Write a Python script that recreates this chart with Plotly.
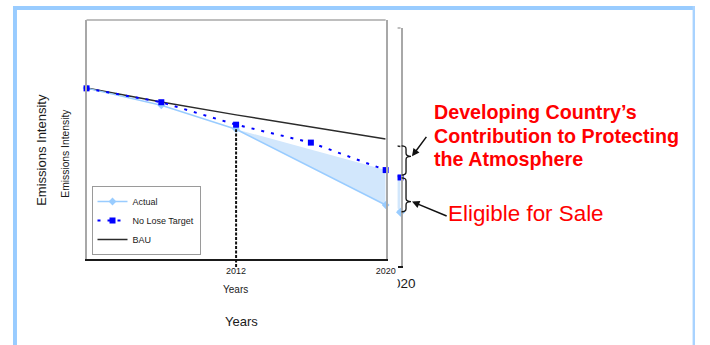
import plotly.graph_objects as go

# ---- data ----
years = [2004, 2008, 2012, 2016, 2020]
actual = [71.5, 64.3, 54.3, None, 22.6]
no_lose_target = [71.4, 65.6, 56.2, 48.7, 37.2]
bau = [71.5, 65.7, 60.3, 55.3, 50.2]
tick_years = [2012, 2020]
tick_labels = ["2012", "2020"]
big_tick_years = [2020]
big_tick_labels = ["2020"]
series_names = ["Actual", "No Lose Target", "BAU"]
y_title = "Emissions Intensity"
x_title = "Years"
callout_top_lines = ["Developing Country\u2019s", "Contribution to Protecting", "the Atmosphere"]
callout_bottom = "Eligible for Sale"

# ---- layout helpers ----
W, H = 710, 345
# the photographed page comes out slightly narrower than the canvas; place
# horizontal positions so that they land where the reference has them
SX, OX = 0.968, 9.0
def px(x):
    t = (x - OX) / SX
    return min(max(t, 0), W) / W
def py(y):
    return 1 - y / H

FONT = "Liberation Sans, Arial, sans-serif"
ACT_C = "#99ccff"
NLT_C = "#0000ff"
BAU_C = "#2b2b2b"
FILL_C = "#d2e7fc"
GRAY = "#a8a8a8"
TXT = "#1a1a1a"
RED = "#ff0000"
Y_RANGE = [0, 100]

i12 = years.index(2012)
last = len(years) - 1
tri_x = [years[i12], years[last], years[last]]
tri_y = [actual[i12], no_lose_target[last], actual[last]]

fig = go.Figure()

# ---- small (front) chart ----
fig.add_trace(go.Scatter(x=tri_x, y=tri_y, fill="toself", fillcolor=FILL_C, mode="lines",
                         line=dict(width=0), showlegend=False, hoverinfo="skip",
                         xaxis="x", yaxis="y"))
fig.add_trace(go.Scatter(x=years, y=bau, name=series_names[2], mode="lines",
                         line=dict(color=BAU_C, width=1.5), legendrank=3, xaxis="x", yaxis="y"))
fig.add_trace(go.Scatter(x=years, y=actual, name=series_names[0], mode="lines+markers",
                         connectgaps=True, line=dict(color=ACT_C, width=1.5),
                         marker=dict(symbol="diamond", size=6, color=ACT_C),
                         cliponaxis=False, legendrank=1, xaxis="x", yaxis="y"))
fig.add_trace(go.Scatter(x=years, y=no_lose_target, name=series_names[1], mode="lines+markers",
                         line=dict(color=NLT_C, width=2, dash="3px,7px"),
                         marker=dict(symbol="square", size=6, color=NLT_C),
                         cliponaxis=False, legendrank=2, xaxis="x", yaxis="y"))

# ---- big (background) chart, only its right edge is visible ----
fig.add_trace(go.Scatter(x=tri_x, y=tri_y, fill="toself", fillcolor=FILL_C, mode="lines",
                         line=dict(width=0), showlegend=False, hoverinfo="skip",
                         xaxis="x2", yaxis="y2"))
fig.add_trace(go.Scatter(x=years, y=bau, mode="lines", line=dict(color=BAU_C, width=1.5),
                         showlegend=False, xaxis="x2", yaxis="y2"))
fig.add_trace(go.Scatter(x=years, y=actual, mode="lines", connectgaps=True,
                         line=dict(color=ACT_C, width=1.5), showlegend=False,
                         xaxis="x2", yaxis="y2"))
fig.add_trace(go.Scatter(x=years, y=no_lose_target, mode="lines",
                         line=dict(color=NLT_C, width=2, dash="3px,7px"), showlegend=False,
                         xaxis="x2", yaxis="y2"))
fig.add_trace(go.Scatter(x=[years[last]], y=[actual[last]], mode="markers",
                         marker=dict(symbol="diamond", size=7, color=ACT_C),
                         cliponaxis=False, showlegend=False, xaxis="x2", yaxis="y2"))
fig.add_trace(go.Scatter(x=[years[last]], y=[no_lose_target[last]], mode="markers",
                         marker=dict(symbol="square", size=6, color=NLT_C),
                         cliponaxis=False, showlegend=False, xaxis="x2", yaxis="y2"))

axis_common = dict(showgrid=False, zeroline=False, fixedrange=True)
fig.update_layout(
    width=W, height=H, autosize=False,
    margin=dict(l=0, r=0, t=0, b=0),
    paper_bgcolor="white", plot_bgcolor="white",
    font=dict(family=FONT, color=TXT),
    xaxis=dict(domain=[px(84), px(385)], range=[years[0], years[last]],
               tickvals=tick_years, ticktext=tick_labels, tickfont=dict(size=9, color=TXT),
               ticks="", ticklabelstandoff=2,
               showline=True, linecolor="#1a1a1a", linewidth=2, **axis_common),
    yaxis=dict(domain=[py(259), py(20)], range=Y_RANGE, showticklabels=False,
               showline=True, linecolor=GRAY, linewidth=1.5, mirror=True, **axis_common),
    xaxis2=dict(domain=[px(397), px(400)], range=[2019.85, years[last]],
                tickvals=big_tick_years, ticktext=big_tick_labels,
                tickfont=dict(size=13.5, color=TXT), ticks="", ticklabelstandoff=4,
                showline=True, linecolor="#1a1a1a", linewidth=1.5, anchor="y2", **axis_common),
    yaxis2=dict(domain=[py(266), py(28)], range=Y_RANGE, showticklabels=False, side="right",
                showline=True, linecolor=GRAY, linewidth=1.5, anchor="x2", **axis_common),
    legend=dict(x=px(89), y=py(255), xanchor="left", yanchor="bottom",
                bgcolor="white", bordercolor="#9a9a9a", borderwidth=1,
                font=dict(size=9, color=TXT), tracegroupgap=0, itemwidth=30),
    showlegend=True,
)

shapes = []
# slide frame
shapes.append(dict(type="rect", xref="paper", yref="paper", x0=px(10), x1=1, y0=py(10), y1=py(6),
                   fillcolor="#99ccff", line=dict(width=0), layer="below"))
shapes.append(dict(type="rect", xref="paper", yref="paper", x0=px(10), x1=px(14), y0=py(345), y1=py(6),
                   fillcolor="#99ccff", line=dict(width=0), layer="below"))
shapes.append(dict(type="rect", xref="paper", yref="paper", x0=(W - 2.5) / W, x1=1, y0=py(345), y1=py(6),
                   fillcolor="#a9d3ff", line=dict(width=0), layer="below"))
# top borders of both plot areas
shapes.append(dict(type="line", xref="x domain", yref="y domain", x0=0, x1=1, y0=1, y1=1,
                   line=dict(color=GRAY, width=1.5)))
shapes.append(dict(type="line", xref="x2 domain", yref="y2 domain", x0=0, x1=1, y0=1, y1=1,
                   line=dict(color=GRAY, width=1.5)))
# dashed drop line at 2012 (reaches slightly below the axis)
plot_h = 259 - 20
shapes.append(dict(type="line", xref="x", yref="y domain", x0=years[i12], x1=years[i12],
                   y0=-8 / plot_h, y1=(actual[i12] - Y_RANGE[0]) / (Y_RANGE[1] - Y_RANGE[0]),
                   line=dict(color="#111111", width=2, dash="3px,1.5px")))

# curly braces on the big chart's 2020 values
def brace(yt, yb, frac):
    x0, x1, x2 = px(401), px(405.5), px(410.5)
    d = 1.3
    ytip = yt - (yt - yb) * frac
    return (f"M {x0},{yt} Q {x1},{yt} {x1},{yt - d} L {x1},{ytip + d} "
            f"Q {x1},{ytip} {x2},{ytip} Q {x1},{ytip} {x1},{ytip - d} "
            f"L {x1},{yb + d} Q {x1},{yb} {x0},{yb}"), ytip

p1, tip1 = brace(bau[last] + 0.3, no_lose_target[last] + 1.0, 0.36)
p2, tip2 = brace(no_lose_target[last] - 0.2, actual[last] + 0.2, 0.70)
for p in (p1, p2):
    shapes.append(dict(type="path", xref="paper", yref="y2", path=p,
                       line=dict(color="#111111", width=1.3)))
# mask: the big chart's "2020" tick label is partly hidden behind the front chart
shapes.append(dict(type="rect", xref="paper", yref="paper", x0=px(378), x1=px(397),
                   y0=py(293), y1=py(276.5), fillcolor="white", line=dict(width=0), layer="above"))
fig.update_layout(shapes=shapes)

ann = []
def centered(text, x, y, size, angle=0):
    return dict(text=text, x=px(x), y=py(y), xref="paper", yref="paper", textangle=angle,
                xanchor="center", yanchor="middle", showarrow=False,
                font=dict(size=size, color=TXT))

ann.append(centered(y_title, 38.5, 149.5, 13, -90))
ann.append(centered(y_title, 62, 153, 10.3, -90))
ann.append(centered(x_title, 240, 321, 13))
ann.append(centered(x_title, 234, 289.5, 10))
for line_text, yc in zip(callout_top_lines, [111.7, 135.7, 159.3]):
    ann.append(dict(text=line_text, x=px(431.5), y=py(yc), xref="paper", yref="paper",
                    xanchor="left", yanchor="middle", align="left", showarrow=False,
                    font=dict(size=19.7, color=RED, weight="bold")))
ann.append(dict(text=callout_bottom, x=px(445.5), y=py(213.5), xref="paper", yref="paper",
                xanchor="left", yanchor="middle", align="left", showarrow=False,
                font=dict(size=22.4, color=RED)))
# arrows pointing at the brace tips
ann.append(dict(text="", x=px(411.5), y=tip1, xref="paper", yref="y2", showarrow=True,
                ax=15 / SX, ay=-21, arrowhead=2, arrowsize=1, arrowwidth=1.5,
                arrowcolor="#111111", standoff=0))
ann.append(dict(text="", x=px(411.5), y=tip2, xref="paper", yref="y2", showarrow=True,
                ax=35 / SX, ay=15, arrowhead=2, arrowsize=1, arrowwidth=1.5,
                arrowcolor="#111111", standoff=0))
fig.update_layout(annotations=ann)

fig.write_html(
    "out.html",
    config={"displayModeBar": False},
    post_script="document.body.style.margin='0';document.body.style.overflow='hidden';",
)
